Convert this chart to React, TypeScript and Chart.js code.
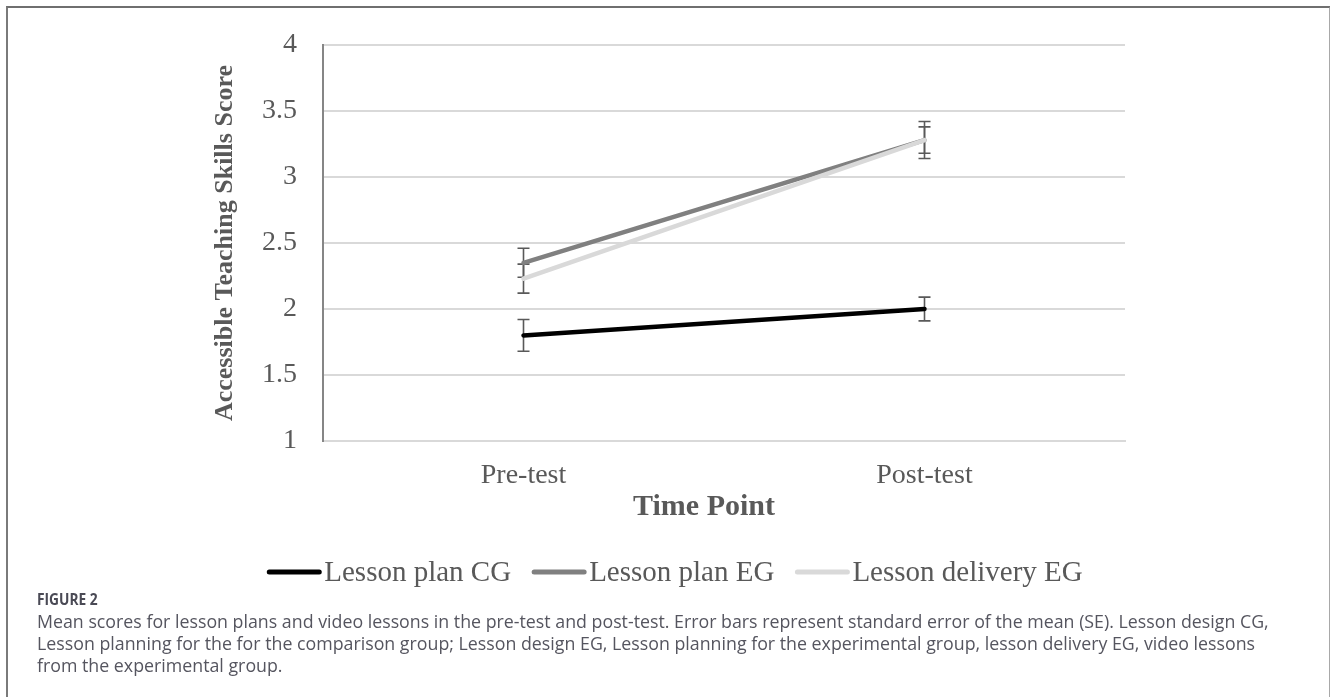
import React, { useEffect, useRef } from "react";
import { Chart, registerables } from "chart.js";

Chart.register(...registerables);

const categories = ["Pre-test", "Post-test"];
const seriesNames = ["Lesson plan CG", "Lesson plan EG", "Lesson delivery EG"];
const cgValues = [1.8, 2.0];
const cgErrors = [0.12, 0.09];
const planEgValues = [2.35, 3.28];
const planEgErrors = [0.11, 0.14];
const deliveryEgValues = [2.23, 3.28];
const deliveryEgErrors = [0.11, 0.1];
const yMin = 1;
const yMax = 4;
const yStep = 0.5;
const xTitle = "Time Point";
const yTitle = "Accessible Teaching Skills Score";

const seriesColors = ["#000000", "#808080", "#d9d9d9"];
const errorSets = [cgErrors, planEgErrors, deliveryEgErrors];

const SERIF = "'Liberation Serif', 'Times New Roman', serif";
const TEXT = "#595959";

const errorBarPlugin = {
  id: "errorBars",
  beforeDatasetsDraw(chart: any) {
    const ctx = chart.ctx;
    const y = chart.scales.y;
    ctx.save();
    ctx.strokeStyle = "#595959";
    ctx.lineWidth = 1.6;
    chart.data.datasets.forEach((ds: any, di: number) => {
      const meta = chart.getDatasetMeta(di);
      const errs = errorSets[di];
      meta.data.forEach((pt: any, i: number) => {
        const v = ds.data[i];
        const e = errs[i];
        const x = pt.x;
        const yt = y.getPixelForValue(v + e);
        const yb = y.getPixelForValue(v - e);
        ctx.beginPath();
        ctx.moveTo(x, yt);
        ctx.lineTo(x, yb);
        ctx.moveTo(x - 6, yt);
        ctx.lineTo(x + 6, yt);
        ctx.moveTo(x - 6, yb);
        ctx.lineTo(x + 6, yb);
        ctx.stroke();
      });
    });
    ctx.restore();
  },
};

const textPlugin = {
  id: "extraText",
  afterDraw(chart: any) {
    const ctx = chart.ctx;
    ctx.save();
    // x axis title
    ctx.font = `bold 30px ${SERIF}`;
    ctx.fillStyle = TEXT;
    ctx.textAlign = "center";
    ctx.textBaseline = "middle";
    ctx.fillText(xTitle, 704, 507);

    // legend
    ctx.font = `29px ${SERIF}`;
    ctx.textAlign = "left";
    const lineLen = 54;
    const gapText = 3;
    const gapItem = 21;
    const widths = seriesNames.map((n) => lineLen + gapText + ctx.measureText(n).width);
    const total = widths.reduce((a, b) => a + b, 0) + gapItem * (seriesNames.length - 1);
    let x = 675 - total / 2;
    const yC = 572;
    seriesNames.forEach((n, i) => {
      ctx.strokeStyle = seriesColors[i];
      ctx.lineWidth = 5;
      ctx.lineCap = "round";
      ctx.beginPath();
      ctx.moveTo(x + 2, yC);
      ctx.lineTo(x + lineLen - 2, yC);
      ctx.stroke();
      ctx.fillStyle = TEXT;
      ctx.fillText(n, x + lineLen + gapText, yC + 1);
      x += widths[i] + gapItem;
    });
    ctx.restore();
  },
};

export default function App() {
  const ref = useRef<HTMLCanvasElement | null>(null);

  useEffect(() => {
    if (!ref.current) return;
    const values = [cgValues, planEgValues, deliveryEgValues];
    const chart = new Chart(ref.current, {
      type: "line",
      data: {
        labels: categories,
        datasets: seriesNames.map((name, i) => ({
          label: name,
          data: values[i],
          borderColor: seriesColors[i],
          backgroundColor: seriesColors[i],
          borderWidth: 4.5,
          borderCapStyle: "round",
          pointRadius: 0,
          pointHoverRadius: 0,
          fill: false,
          tension: 0,
          order: i === 2 ? 0 : i === 0 ? 1 : 2,
        })),
      },
      options: {
        responsive: false,
        animation: false,
        events: [],
        layout: { padding: { left: 200, right: 205, top: 45, bottom: 0 } },
        plugins: {
          legend: { display: false },
          tooltip: { enabled: false },
        },
        scales: {
          x: {
            offset: true,
            grid: { display: false, drawTicks: false },
            border: { display: true, color: "#d9d9d9", width: 2 },
            ticks: {
              color: TEXT,
              font: { family: SERIF, size: 28 },
              padding: 18,
            },
            afterFit(scale: any) {
              scale.height = 149;
            },
          },
          y: {
            min: yMin,
            max: yMax,
            ticks: {
              stepSize: yStep,
              color: TEXT,
              font: { family: SERIF, size: 28 },
              padding: 26,
              callback: (v: any) => String(Number(v)),
            },
            grid: { color: "#d9d9d9", lineWidth: 2, drawTicks: false },
            border: { display: true, color: "#868686", width: 2 },
            title: {
              display: true,
              text: yTitle,
              color: TEXT,
              font: { family: SERIF, size: 26, weight: "bold" },
              padding: { top: 10, bottom: 0 },
            },
            afterFit(scale: any) {
              scale.width = 123;
            },
          },
        },
      },
      plugins: [errorBarPlugin, textPlugin],
    });
    return () => chart.destroy();
  }, []);

  const captionFont = "'Open Sans', 'Noto Sans', sans-serif";
  return (
    <div style={{ position: "absolute", left: 0, top: 0, width: 1330, height: 697, overflow: "hidden", background: "#fff" }}>
      <div
        style={{
          position: "absolute",
          left: 6,
          top: 6,
          width: 1321,
          height: 720,
          borderTop: "2px solid #6f6f6f",
          borderLeft: "2px solid #7a7a7a",
          borderRight: "2px solid #a8a8a8",
        }}
      />
      <canvas ref={ref} width={1330} height={590} style={{ position: "absolute", left: 0, top: 0 }} />
      <div
        style={{
          position: "absolute",
          left: 37,
          top: 588,
          fontFamily: captionFont,
          color: "#55555f",
          whiteSpace: "nowrap",
        }}
      >
        <div style={{ fontSize: 16, fontWeight: 700, lineHeight: "22px", color: "#4a4a55", transform: "scaleX(0.86)", transformOrigin: "left center" }}>FIGURE 2</div>
        <div style={{ fontSize: 17.8, lineHeight: "22px" }}>
          <div>Mean scores for lesson plans and video lessons in the pre-test and post-test. Error bars represent standard error of the mean (SE). Lesson design CG,</div>
          <div>Lesson planning for the for the comparison group; Lesson design EG, Lesson planning for the experimental group, lesson delivery EG, video lessons</div>
          <div>from the experimental group.</div>
        </div>
      </div>
    </div>
  );
}
